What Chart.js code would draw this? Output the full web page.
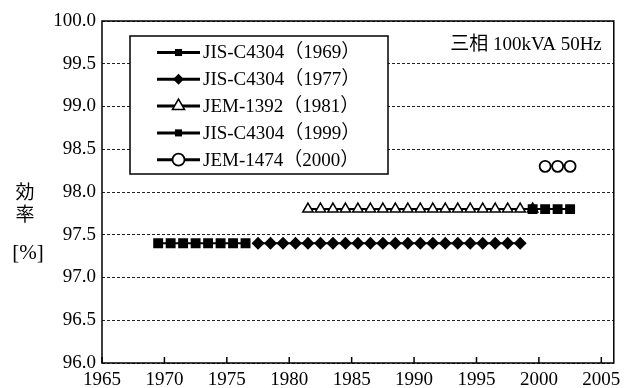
<!DOCTYPE html>
<html>
<head>
<meta charset="utf-8">
<script src="https://cdn.jsdelivr.net/npm/chart.js@4/dist/chart.umd.min.js"></script>
<style>
  body { margin: 0; background: #fff; }
  #wrap { width: 628px; height: 388px; }
</style>
</head>
<body>
<div id="wrap"><canvas id="chart" width="628" height="388"></canvas></div>
<script>
// years each standard's value was plotted for, and the efficiency [%]
const jis1969Years = [1969, 1970, 1971, 1972, 1973, 1974, 1975, 1976];
const jis1969Eff = [97.4, 97.4, 97.4, 97.4, 97.4, 97.4, 97.4, 97.4];

const jis1977Years = [1977, 1978, 1979, 1980, 1981, 1982, 1983, 1984, 1985, 1986, 1987,
  1988, 1989, 1990, 1991, 1992, 1993, 1994, 1995, 1996, 1997, 1998];
const jis1977Eff = [97.4, 97.4, 97.4, 97.4, 97.4, 97.4, 97.4, 97.4, 97.4, 97.4, 97.4,
  97.4, 97.4, 97.4, 97.4, 97.4, 97.4, 97.4, 97.4, 97.4, 97.4, 97.4];

const jem1392Years = [1981, 1982, 1983, 1984, 1985, 1986, 1987, 1988, 1989, 1990,
  1991, 1992, 1993, 1994, 1995, 1996, 1997, 1998, 1999];
const jem1392Eff = [97.8, 97.8, 97.8, 97.8, 97.8, 97.8, 97.8, 97.8, 97.8, 97.8,
  97.8, 97.8, 97.8, 97.8, 97.8, 97.8, 97.8, 97.8, 97.8];

const jis1999Years = [1999, 2000, 2001, 2002];
const jis1999Eff = [97.8, 97.8, 97.8, 97.8];

const jem1474Years = [2000, 2001, 2002];
const jem1474Eff = [98.3, 98.3, 98.3];

const seriesLabels = ['JIS-C4304（1969）', 'JIS-C4304（1977）', 'JEM-1392（1981）',
  'JIS-C4304（1999）', 'JEM-1474（2000）'];

const xTickYears = [1965, 1970, 1975, 1980, 1985, 1990, 1995, 2000, 2005];
const yTitleLines = ['効', '率', '[%]'];
const noteText = '三相 100kVA 50Hz';

// markers sit in the middle of each year
const yearMid = 0.5;
const serif = '"Liberation Serif", "Noto Sans CJK JP", serif';

const toPoints = (years, vals) => years.map((y, i) => ({ x: y + yearMid, y: vals[i] }));

const makeSet = (label, years, vals, style, radius, fill, bw, legendRadius, order) => ({
  label,
  data: toPoints(years, vals),
  borderColor: '#000',
  borderWidth: 2,
  pointStyle: style,
  pointRadius: radius,
  pointBackgroundColor: fill,
  pointBorderColor: '#000',
  pointBorderWidth: bw,
  legendRadius,
  order,
});

const datasets = [
  makeSet(seriesLabels[0], jis1969Years, jis1969Eff, 'rect', 7, '#000', 0, 5, 1),
  makeSet(seriesLabels[1], jis1977Years, jis1977Eff, 'rectRot', 6.5, '#000', 0, 5.5, 1),
  makeSet(seriesLabels[2], jem1392Years, jem1392Eff, 'triangle', 6, '#fff', 1.5, 7, 1),
  makeSet(seriesLabels[3], jis1999Years, jis1999Eff, 'rect', 7, '#000', 0, 5, 0),
  makeSet(seriesLabels[4], jem1474Years, jem1474Eff, 'circle', 5.5, '#fff', 1.8, 6, 1),
];

function marker(ctx, ds, r, x, y) {
  ctx.fillStyle = ds.pointBackgroundColor;
  ctx.strokeStyle = '#000';
  ctx.lineWidth = ds.pointBorderWidth;
  Chart.helpers.drawPoint(ctx, {
    pointStyle: ds.pointStyle, radius: r, rotation: 0, borderWidth: ds.pointBorderWidth,
  }, x, y);
}

const framePlugin = {
  id: 'frame',
  afterDraw(chart) {
    const { ctx, chartArea: a, scales } = chart;
    ctx.save();
    ctx.strokeStyle = '#000';
    ctx.lineWidth = 1.5;
    ctx.strokeRect(a.left, a.top, a.right - a.left, a.bottom - a.top);
    // inward tick marks on the year axis
    ctx.lineWidth = 1.5;
    xTickYears.forEach(v => {
      const px = scales.x.getPixelForValue(v);
      ctx.beginPath();
      ctx.moveTo(px, a.bottom);
      ctx.lineTo(px, a.bottom - 6);
      ctx.stroke();
    });

    // y title, stacked
    ctx.fillStyle = '#000';
    ctx.textAlign = 'center';
    ctx.textBaseline = 'middle';
    ctx.font = '19px "Noto Sans CJK JP", sans-serif';
    ctx.fillText(yTitleLines[0], 25, 192);
    ctx.fillText(yTitleLines[1], 25, 214);
    ctx.font = '21px ' + serif;
    ctx.fillText(yTitleLines[2], 28, 253);

    // condition note
    ctx.textAlign = 'right';
    ctx.font = '19px ' + serif;
    ctx.fillText(noteText, a.right - 12, 45);

    // legend box
    const bx = 130, by = 36, bw = 258, bh = 138;
    ctx.fillStyle = '#fff';
    ctx.fillRect(bx, by, bw, bh);
    ctx.strokeStyle = '#000';
    ctx.lineWidth = 1.5;
    ctx.strokeRect(bx, by, bw, bh);
    chart.data.datasets.forEach((ds, i) => {
      const y = 52.5 + i * 26.8;
      ctx.strokeStyle = '#000';
      ctx.lineWidth = 3;
      ctx.beginPath();
      ctx.moveTo(157, y);
      ctx.lineTo(200, y);
      ctx.stroke();
      marker(ctx, ds, ds.legendRadius, 178.5, y);
      ctx.fillStyle = '#000';
      ctx.textAlign = 'left';
      ctx.textBaseline = 'middle';
      ctx.font = '19px ' + serif;
      ctx.fillText(ds.label, 203, y + 1);
    });
    ctx.restore();
  },
};

new Chart(document.getElementById('chart'), {
  type: 'line',
  data: { datasets },
  plugins: [framePlugin],
  options: {
    responsive: false,
    animation: false,
    layout: { padding: { left: 0, right: 8, top: 21, bottom: 0 } },
    plugins: { legend: { display: false }, tooltip: { enabled: false } },
    elements: { line: { tension: 0 } },
    scales: {
      x: {
        type: 'linear',
        min: 1965,
        max: 2006,
        afterBuildTicks: s => { s.ticks = xTickYears.map(v => ({ value: v })); },
        afterFit: s => { s.height = 25; },
        grid: { display: false, drawTicks: false },
        border: { display: false },
        ticks: {
          color: '#000',
          padding: 7.5,
          maxRotation: 0,
          autoSkip: false,
          font: { family: serif, size: 19, lineHeight: 1 },
          callback: v => String(v),
        },
      },
      y: {
        min: 96,
        max: 100,
        afterFit: s => { s.width = 102; },
        grid: { color: '#222', lineWidth: 1, drawTicks: false },
        border: { display: false, dash: [3, 2] },
        ticks: {
          stepSize: 0.5,
          color: '#000',
          padding: 6,
          font: { family: serif, size: 19 },
          callback: v => v.toFixed(1),
        },
      },
    },
  },
});
</script>
</body>
</html>
